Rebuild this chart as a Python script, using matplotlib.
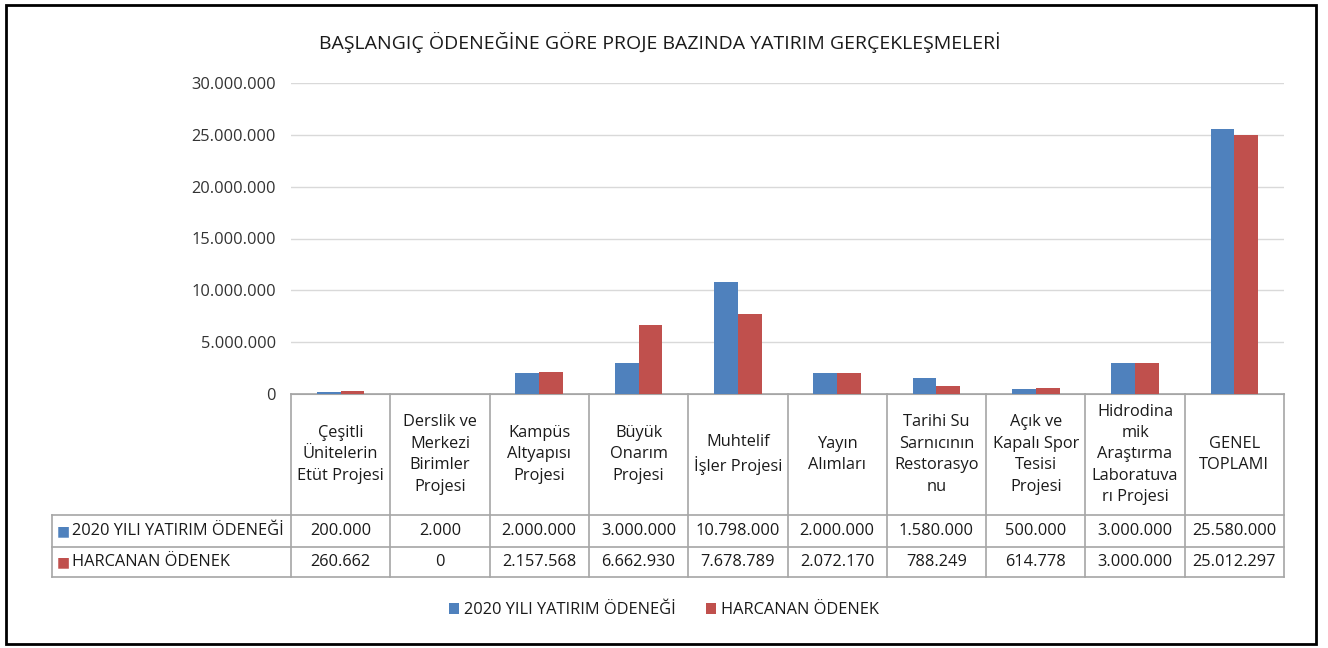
import matplotlib
matplotlib.use("Agg")
import matplotlib.pyplot as plt
from matplotlib.patches import Rectangle
from matplotlib.ticker import FuncFormatter
from matplotlib.transforms import blended_transform_factory
import numpy as np

plt.rcParams['font.family'] = ['Open Sans', 'DejaVu Sans']

title = "BAŞLANGIÇ ÖDENEĞİNE GÖRE PROJE BAZINDA YATIRIM GERÇEKLEŞMELERİ"
categories = ["Çeşitli\nÜnitelerin\nEtüt Projesi",
              "Derslik ve\nMerkezi\nBirimler\nProjesi",
              "Kampüs\nAltyapısı\nProjesi",
              "Büyük\nOnarım\nProjesi",
              "Muhtelif\nİşler Projesi",
              "Yayın\nAlımları",
              "Tarihi Su\nSarnıcının\nRestorasyo\nnu",
              "Açık ve\nKapalı Spor\nTesisi\nProjesi",
              "Hidrodina\nmik\nAraştırma\nLaboratuva\nrı Projesi",
              "GENEL\nTOPLAMI"]
series_names = ["2020 YILI YATIRIM ÖDENEĞİ", "HARCANAN ÖDENEK"]
allocation = [200000, 2000, 2000000, 3000000, 10798000, 2000000, 1580000, 500000, 3000000, 25580000]
spent = [260662, 0, 2157568, 6662930, 7678789, 2072170, 788249, 614778, 3000000, 25012297]
yticks = [0, 5000000, 10000000, 15000000, 20000000, 25000000, 30000000]
colors = ["#4F81BD", "#C0504D"]

def fmt(v):
    return f"{int(v):,}".replace(",", ".")

W, H = 1328, 648
fs = 11.8
tc = "#1a1a1a"
fig = plt.figure(figsize=(W/100, H/100), dpi=100)
ax = fig.add_axes([291/W, 1-394/H, (1284-291)/W, (394-83)/H])

x = np.arange(len(categories))
bw = 0.24
ax.bar(x - bw/2, allocation, bw, color=colors[0], label=series_names[0], zorder=3)
ax.bar(x + bw/2, spent, bw, color=colors[1], label=series_names[1], zorder=3)
ax.set_xlim(-0.5, len(categories) - 0.5)
ax.set_ylim(0, 30000000)
ax.set_yticks(yticks)
ax.yaxis.set_major_formatter(FuncFormatter(lambda v, p: fmt(v)))
ax.tick_params(axis='y', length=0, labelsize=fs, colors="#333333", pad=11)
ax.tick_params(axis='x', length=0, labelbottom=False)
ax.grid(axis='y', color="#D9D9D9", linewidth=1, zorder=0)
for s in ["top", "right", "left"]:
    ax.spines[s].set_visible(False)
ax.spines["bottom"].set_color("#A6A6A6")

fig.text(660/W, 1-42/H, title, ha='center', va='center', fontsize=14, color=tc)

# data table below axes
tr = blended_transform_factory(ax.transData, ax.transAxes)
ah = 394 - 83
def yf(py):
    return (394 - py) / ah
y_hdr = yf(515)
y_r1 = yf(547)
y_r2 = yf(577)
lc = "#A6A6A6"
lw = 1.2
x_left = -0.5 - (291 - 52) / ((1284 - 291) / len(categories))
for i in range(len(categories) + 1):
    ax.plot([i - 0.5, i - 0.5], [0, y_r2], transform=tr, color=lc, lw=lw, clip_on=False)
ax.plot([-0.5, len(categories) - 0.5], [0, 0], transform=tr, color=lc, lw=lw, clip_on=False)
for yy in [y_hdr, y_r1, y_r2]:
    ax.plot([x_left, len(categories) - 0.5], [yy, yy], transform=tr, color=lc, lw=lw, clip_on=False)
ax.plot([x_left, x_left], [y_hdr, y_r2], transform=tr, color=lc, lw=lw, clip_on=False)

for i, c in enumerate(categories):
    ax.text(i, y_hdr / 2, c, transform=tr, ha='center', va='center', fontsize=fs,
            color=tc, linespacing=1.45)
    ax.text(i, (y_hdr + y_r1) / 2, fmt(allocation[i]), transform=tr, ha='center', va='center',
            fontsize=fs, color=tc)
    ax.text(i, (y_r1 + y_r2) / 2, fmt(spent[i]), transform=tr, ha='center', va='center',
            fontsize=fs, color=tc)

for k, (name, yy) in enumerate(zip(series_names, [(y_hdr + y_r1) / 2, (y_r1 + y_r2) / 2])):
    ax.text(x_left + 0.05, yy, "■", transform=tr, ha='left', va='center', fontsize=10,
            color=colors[k], family='DejaVu Sans')
    ax.text(x_left + 0.205, yy, name, transform=tr, ha='left', va='center', fontsize=fs,
            color=tc)

leg = fig.legend(loc='center', bbox_to_anchor=(664/W, 1-610/H), ncol=2, frameon=False,
                 fontsize=fs, handlelength=0.65, handleheight=0.65, columnspacing=1.8,
                 handletextpad=0.3)
for t in leg.get_texts():
    t.set_color(tc)

fig.add_artist(Rectangle((6/W, 4/H), (1316-6)/W, (643-4)/H, transform=fig.transFigure,
                         fill=False, edgecolor="black", linewidth=2))

fig.savefig("out.png", dpi=100, facecolor="white")
